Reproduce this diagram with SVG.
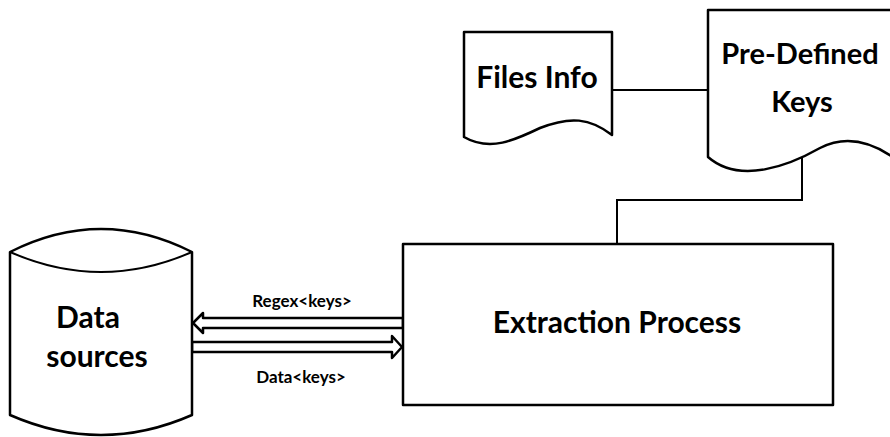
<svg xmlns="http://www.w3.org/2000/svg" width="890" height="437" viewBox="0 0 890 437">
<style>
.s{fill:#fff;stroke:#000;stroke-width:2.5;stroke-linejoin:round}
.c{fill:none;stroke:#000;stroke-width:2}
.t{font-family:Lato,"Open Sans",sans-serif;font-weight:bold;fill:#000;text-anchor:middle}
.l{font-family:Lato,"Open Sans",sans-serif;font-weight:bold;fill:#000;text-anchor:middle;font-size:17px}
</style>
<rect width="890" height="437" fill="#fff"/>
<g id="connectors">
<line class="c" x1="612" y1="90" x2="708" y2="90"/>
<polyline class="c" points="802,158 802,200 617,200 617,244"/>
<polygon class="s" points="193,323 203,313 203,318 403,318 403,328 203,328 203,333"/>
<polygon class="s" points="192,342 392,342 392,336 402,347 392,358 392,352 192,352"/>
<text class="l" x="302" y="307">Regex&lt;keys&gt;</text>
<text class="l" x="301" y="383">Data&lt;keys&gt;</text>
</g>
<g id="files-info">
<path class="s" d="M464,32 H612 V135 C590,118 570,116 540,128 C515,140 490,152 464,137 Z"/>
<text class="t" x="537" y="88" font-size="30">Files Info</text>
</g>
<g id="pre-defined-keys">
<path class="s" d="M708,10 H897 V160 C870,140 845,135 820,148 C790,165 740,185 708,157 Z"/>
<text class="t" x="800" y="64" font-size="29">Pre-Defined</text>
<text class="t" x="802" y="112" font-size="29">Keys</text>
</g>
<g id="extraction-process">
<rect class="s" x="403" y="244" width="430" height="161"/>
<text class="t" x="617" y="333" font-size="30">Extraction Process</text>
</g>
<g id="data-sources">
<path class="s" d="M10,252 Q101,206 192,252 V415 Q101,455 10,415 Z"/>
<path class="c" d="M10,252 Q101,292 192,252" stroke-width="2.5"/>
<text class="t" x="88" y="328" font-size="30">Data</text>
<text class="t" x="97" y="367" font-size="30">sources</text>
</g>
</svg>
